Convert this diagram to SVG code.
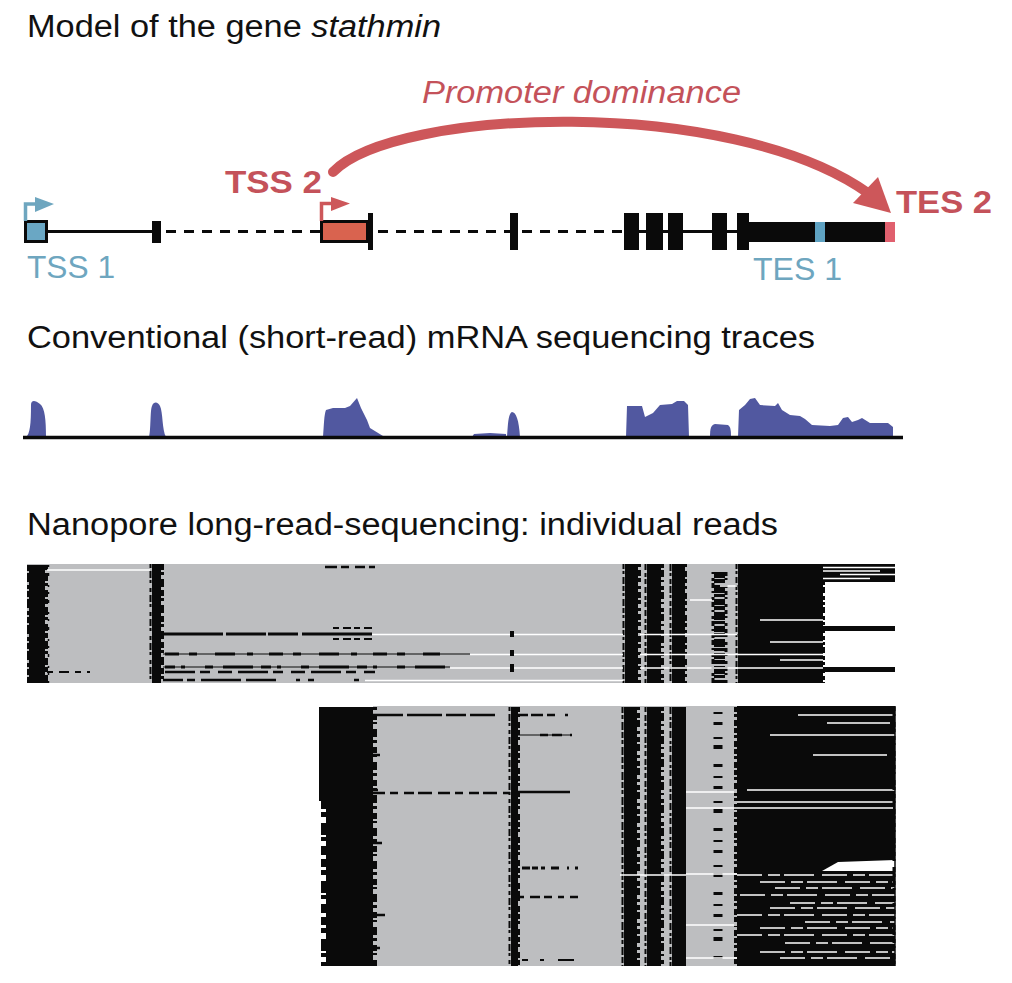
<svg xmlns="http://www.w3.org/2000/svg" width="1012" height="983" viewBox="0 0 1012 983">
<style>
text{font-family:"Liberation Sans",Arial,sans-serif}
.h{font-size:31px;fill:#111}
.blue{fill:#6ea6bf}
.red{fill:#c4525a}
.bl{fill:#0a0a0a}
.gr{fill:#bdbec0}
.ln{stroke:#0a0a0a;stroke-width:3;fill:none}
.dash{stroke:#0a0a0a;stroke-width:3;fill:none;stroke-dasharray:10 8}
.fr{stroke:#0a0a0a;fill:none}
.wl{stroke:#fff;fill:none;stroke-width:1.5}
.rl{stroke:#0a0a0a;fill:none}
.cov{fill:#5158a0}
</style>
<rect width="1012" height="983" fill="#fff"/>

<g id="headings">
<text class="h" x="27" y="37" textLength="414" lengthAdjust="spacingAndGlyphs">Model of the gene <tspan font-style="italic">stathmin</tspan></text>
<text class="h" x="27" y="348" textLength="788" lengthAdjust="spacingAndGlyphs">Conventional (short-read) mRNA sequencing traces</text>
<text class="h" x="27" y="535" textLength="751" lengthAdjust="spacingAndGlyphs">Nanopore long-read-sequencing: individual reads</text>
</g>

<g id="gene-model">
<path class="ln" d="M47 231.5H152"/>
<rect class="bl" x="152" y="221" width="9" height="22"/>
<path class="dash" d="M166 231.5H320"/>
<rect class="bl" x="368" y="213" width="5" height="37"/>
<path class="dash" d="M378 231.5H510"/>
<rect class="bl" x="510" y="213" width="8" height="37"/>
<path class="dash" d="M522 231.5H624"/>
<rect class="bl" x="624" y="213" width="15" height="37"/>
<rect class="bl" x="646" y="213" width="17" height="37"/>
<rect class="bl" x="668" y="213" width="15" height="37"/>
<path class="ln" d="M639 231.5H646M663 231.5H668M683 231.5H712M727 231.5H737"/>
<rect class="bl" x="712" y="213" width="15" height="37"/>
<rect class="bl" x="737" y="213" width="12" height="37"/>
<rect class="bl" x="749" y="222" width="136" height="20"/>
<rect x="815" y="222" width="10" height="20" fill="#5fa2c2"/>
<rect x="885" y="222" width="10" height="20" fill="#e0606e"/>
</g>

<g id="tss1">
<rect x="25.5" y="221.5" width="21" height="20" fill="#6aa7c4" stroke="#0a0a0a" stroke-width="3"/>
<path d="M25.5 221V204H38" stroke="#6ea6bf" stroke-width="3.5" fill="none"/>
<polygon points="35,197 54,204 35,212" fill="#6ea6bf"/>
<text class="blue" x="27" y="278" font-size="31" textLength="88" lengthAdjust="spacingAndGlyphs">TSS 1</text>
</g>

<g id="tss2">
<rect x="321.5" y="221.5" width="46" height="20" fill="#d9634f" stroke="#0a0a0a" stroke-width="3"/>
<path d="M321.5 221V203.5H334" stroke="#cd575a" stroke-width="3.5" fill="none"/>
<polygon points="331,197 350,203.5 331,211" fill="#cd575a"/>
<text class="red" x="225" y="193" font-size="31" font-weight="bold" textLength="97" lengthAdjust="spacingAndGlyphs">TSS 2</text>
</g>

<g id="tes1">
<text class="blue" x="753" y="280" font-size="31" textLength="89" lengthAdjust="spacingAndGlyphs">TES 1</text>
</g>

<g id="tes2">
<text class="red" x="896" y="213" font-size="31" font-weight="bold" textLength="96" lengthAdjust="spacingAndGlyphs">TES 2</text>
</g>

<g id="connectors">
<path d="M333 172C395 108 730 95 868 193" stroke="#cd575a" stroke-width="10" stroke-linecap="round" fill="none"/>
<polygon points="891,213 853,203 878,177" fill="#cd575a"/>
<text class="red" x="422" y="103" font-size="31" font-style="italic" textLength="319" lengthAdjust="spacingAndGlyphs">Promoter dominance</text>
</g>

<g id="coverage">
<path class="cov" d="M26 437C30 434 31 424 31 405C31 400 35 400 40 404C45 408 46 420 46 437Z"/>
<path class="cov" d="M149 437C151 430 150 410 152 406C154 401 158 402 160 406C163 412 162 430 166 437Z"/>
<path class="cov" d="M323 437C324 425 324 415 326 410L333 408L345 408L350 406L357 398L361 408L367 420L370 428L383 436L383 437Z"/>
<path class="cov" d="M472 437L474 434L490 433L506 434L506 437Z"/>
<path class="cov" d="M507 437C508 425 508 414 512 412C516 412 519 420 520 437Z"/>
<path class="cov" d="M626 437L627 406L642 406L645 417L653 413L660 405L672 404L677 401L684 401L688 405L689 437Z"/>
<path class="cov" d="M710 437C710 428 711 425 715 424L728 425C731 427 731 432 731 437Z"/>
<path class="cov" d="M738 437L739 410L745 405L750 399L755 398L760 405L775 406L778 403L782 410L790 415L800 416L805 419L812 425L830 426L838 425L843 418L848 417L852 422L858 420L862 418L870 423L888 423L893 427L893 437Z"/>
<path d="M23 437.5H903" stroke="#0a0a0a" stroke-width="3.5"/>
</g>

<g id="reads-tss1">
<rect class="gr" x="27" y="564" width="796" height="119"/>
<rect class="bl" x="823" y="564" width="72" height="18"/>
<path class="wl" d="M823 567.5H895M823 571H880M840 574.5H895M823 578.5H870" stroke="#bdbec0" stroke-width="1.5"/>
<rect class="bl" x="823" y="626" width="72" height="5"/>
<rect class="bl" x="823" y="667" width="72" height="5"/>
<rect class="bl" x="29" y="565" width="16" height="118"/>
<path class="fr" d="M28 565V683" stroke-width="2" stroke-dasharray="6 2 9 3 4 2"/>
<path class="fr" d="M46.5 565V683" stroke-width="3" stroke-dasharray="5 3 8 2 3 4 7 2"/>
<path class="fr" d="M48.5 565V683" stroke-width="1.5" stroke-dasharray="2 6 3 9 2 5"/>
<rect class="bl" x="152" y="564" width="9" height="119"/>
<path class="fr" d="M150.5 564V683" stroke-width="2" stroke-dasharray="4 3 7 2 3 5"/>
<path class="fr" d="M162.5 564V683" stroke-width="3" stroke-dasharray="6 2 3 4 8 3"/>
<rect class="bl" x="625" y="564" width="13" height="119"/>
<path class="fr" d="M623.5 564V683" stroke-width="2" stroke-dasharray="5 2 3 3 7 2"/>
<path class="fr" d="M639.5 564V683" stroke-width="3" stroke-dasharray="3 3 6 2 4 4"/>
<rect class="bl" x="647" y="564" width="14" height="119"/>
<path class="fr" d="M645.5 564V683" stroke-width="2" stroke-dasharray="6 3 4 2 5 3"/>
<path class="fr" d="M662.5 564V683" stroke-width="3" stroke-dasharray="4 2 7 3 2 4"/>
<rect class="bl" x="672" y="564" width="13" height="119"/>
<path class="fr" d="M670.5 564V683" stroke-width="2" stroke-dasharray="7 2 3 3 5 2"/>
<path class="fr" d="M686 564V683" stroke-width="2" stroke-dasharray="3 4 6 2 4 3"/>
<path class="fr" d="M719.5 572V683" stroke-width="11" stroke-dasharray="6 1 4 2 8 1 3 2"/>
<path class="fr" d="M713 572V683" stroke-width="3" stroke-dasharray="2 4 3 2 5 3"/>
<path class="fr" d="M726 572V683" stroke-width="3" stroke-dasharray="4 2 2 5 3 3"/>
<rect class="bl" x="738" y="564" width="85" height="119"/>
<path class="fr" d="M736.5 564V683" stroke-width="2" stroke-dasharray="5 2 3 3 6 2"/>
<path class="fr" d="M823.5 582V683" stroke-width="3" stroke-dasharray="3 2 6 3 4 2"/>
<path class="wl" d="M47 570H150"/>
<path class="rl" d="M325 567H375" stroke-width="2.5" stroke-dasharray="12 4 8 6 10 4"/>
<path class="rl" d="M163 634H372" stroke-width="3" stroke-dasharray="60 3 40 2 30 4 70"/>
<path class="rl" d="M333 628H372M333 639H372" stroke-width="2" stroke-dasharray="6 4 8 3"/>
<path class="wl" d="M372 634.5H623M640 634.5H737"/>
<path class="rl" d="M163 654H470" stroke-width="1"/>
<path class="rl" d="M165 654H440" stroke-width="3" stroke-dasharray="14 10 8 18 20 12 6 16"/>
<path class="wl" d="M470 654.5H623M640 654.5H823"/>
<path class="rl" d="M163 667H450" stroke-width="1"/>
<path class="rl" d="M165 667H450" stroke-width="3" stroke-dasharray="10 6 4 20 8 10 30 8"/>
<path class="rl" d="M165 672H375" stroke-width="2.5" stroke-dasharray="30 5 10 8 14 6"/>
<path class="wl" d="M450 668H623M640 668H823"/>
<path class="rl" d="M47 672H90" stroke-width="2" stroke-dasharray="6 6 10 6"/>
<path class="rl" d="M163 680H365" stroke-width="2.5" stroke-dasharray="20 4 8 6 40 5 30"/>
<path class="wl" d="M365 680.5H623"/>
<path class="rl" d="M512 631V637M512 650V656M512 664V672" stroke-width="4"/>
<path class="wl" d="M720 586H737M690 600H712M760 620H823M770 642H823M780 660H823"/>
</g>

<g id="reads-tss2">
<rect class="gr" x="373" y="706" width="364" height="260"/>
<rect class="bl" x="737" y="706" width="158" height="260"/>
<rect class="bl" x="319" y="707" width="54" height="94"/>
<rect class="bl" x="326" y="801" width="47" height="165"/>
<path class="fr" d="M323.5 801V966" stroke-width="5" stroke-dasharray="8 3 5 6 12 2 4 5 9 4"/>
<path class="fr" d="M375 707V966" stroke-width="4" stroke-dasharray="3 4 6 2 2 5 8 3"/>
<path class="rl" d="M373 755H380M373 790H378M373 843H382M373 915H385M373 948H380" stroke-width="2.5"/>
<rect class="bl" x="511" y="707" width="7" height="259"/>
<path class="fr" d="M509.5 707V966" stroke-width="2" stroke-dasharray="4 3 7 2 3 4"/>
<path class="fr" d="M519 707V966" stroke-width="2" stroke-dasharray="5 2 3 5 6 2"/>
<rect class="bl" x="624" y="707" width="13" height="259"/>
<path class="fr" d="M622.5 707V966" stroke-width="2" stroke-dasharray="6 2 4 3 8 2"/>
<path class="fr" d="M638.5 707V966" stroke-width="3" stroke-dasharray="3 3 5 2 7 4"/>
<rect class="bl" x="647" y="707" width="14" height="259"/>
<path class="fr" d="M645.5 707V966" stroke-width="2" stroke-dasharray="5 3 6 2 3 3"/>
<path class="fr" d="M662.5 707V966" stroke-width="3" stroke-dasharray="4 2 8 3 2 4"/>
<rect class="bl" x="672" y="707" width="14" height="259"/>
<path class="fr" d="M670.5 707V966" stroke-width="2" stroke-dasharray="7 3 3 2 6 3"/>
<path class="fr" d="M718 712V966" stroke-width="9" stroke-dasharray="2 8 3 12 2 6 4 15 3 9"/>
<path class="fr" d="M735.5 707V966" stroke-width="3" stroke-dasharray="5 2 3 3 6 2"/>
<path class="rl" d="M373 715H510" stroke-width="2.5" stroke-dasharray="30 4 35 4 20 4 25"/>
<path class="rl" d="M518 715H572" stroke-width="2.5" stroke-dasharray="10 3 12 4 8"/>
<path class="rl" d="M518 735H572" stroke-width="1"/>
<path class="rl" d="M540 735H572" stroke-width="2.5" stroke-dasharray="8 4 10"/>
<path class="rl" d="M373 793H510" stroke-width="2.5" stroke-dasharray="12 5 8 6 10 4 14 6"/>
<path class="rl" d="M518 792H570" stroke-width="2.5"/>
<path class="rl" d="M522 868H578" stroke-width="3" stroke-dasharray="8 2 6 3 4 6 8"/>
<path class="rl" d="M518 897H578" stroke-width="2.5" stroke-dasharray="6 6 10 4 8 6"/>
<path class="rl" d="M522 960H578" stroke-width="2" stroke-dasharray="6 12 4 14 16"/>
<path class="wl" d="M686 792H737M686 808H737M686 874H737M686 925H737M620 875H686M686 958H737"/>
<polygon points="822,871 838,862 895,860 895,871" fill="#fff"/>
<path class="wl" d="M798 715H893M827 723H890M770 735H895M813 755H887M747 790H895M737 802H893M737 808H893"/>
<path class="wl" d="M737 875H895M760 882H895M775 888H895M740 895H895M790 903H895M770 908H895M737 915H895M805 922H895M760 928H895M737 935H895M785 943H895M760 952H895M780 958H895" stroke-dasharray="25 6 12 4 30 8"/>
<path class="fr" d="M894 707V966" stroke="#fff" stroke-width="3" stroke-dasharray="4 3 2 6 5 2 3 4"/>
<path class="fr" d="M895 706V966" stroke="#fff" stroke-width="1.5"/>
</g>
</svg>
